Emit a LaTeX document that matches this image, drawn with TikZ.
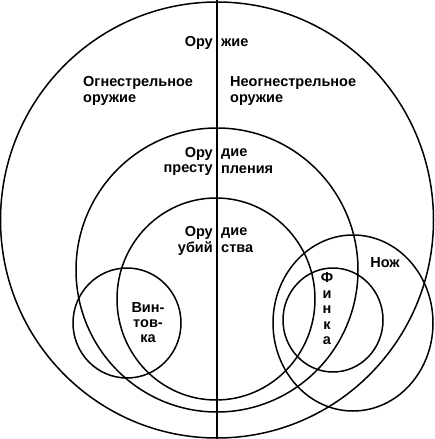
\documentclass[tikz,border=0pt]{standalone}
\usepackage{fontspec}
\setmainfont{Liberation Sans}
\begin{document}
\begin{tikzpicture}[x=1pt,y=-1pt,
  ring/.style={draw=black,line width=1.5pt},
  lbl/.style={font=\bfseries\fontsize{14.5}{15}\selectfont,inner sep=0pt,text=black},
  lblL/.style={lbl,anchor=west},
  lblR/.style={lbl,anchor=east},
  stack/.style={lbl,align=left,anchor=north west,font=\bfseries\fontsize{14.5}{16}\selectfont}]
\useasboundingbox (0,0) rectangle (434,439);
\fill[white] (0,0) rectangle (434,439);
% circles
\draw[ring] (217,220) ellipse [x radius=216.5,y radius=218];
\draw[ring] (217,270) ellipse [x radius=141,y radius=142];
\draw[ring] (216,299) ellipse [x radius=99,y radius=101];
\draw[ring] (127,323) ellipse [x radius=54,y radius=55];
\draw[ring] (353,323) ellipse [x radius=80,y radius=88];
\draw[ring] (333,320) ellipse [x radius=50,y radius=52];
% vertical divider
\coordinate (top) at (217,0);
\coordinate (bot) at (217,439);
\draw[ring] (top) -- (bot);
% labels
\node[lblR] (o1) at (213,43) {Ору};
\node[lblL] (o2) at (221,43) {жие};
\node[stack] (fire) at (83,76) {Огнестрельное\\оружие};
\node[stack] (nofire) at (230,76) {Неогнестрельное\\оружие};
\node[lblR] (p1) at (213,154) {Ору};
\node[lblL] (p2) at (221,154) {дие};
\node[lblR] (p3) at (213,170) {престу};
\node[lblL] (p4) at (221,170) {пления};
\node[lblR] (u1) at (213,233) {Ору};
\node[lblL] (u2) at (221,233) {дие};
\node[lblR] (u3) at (213,249) {убий};
\node[lblL] (u4) at (221,249) {ства};
\node[lbl,align=center,font=\bfseries\fontsize{14.5}{15}\selectfont] (vint) at (148,323) {Вин-\\тов-\\ка};
\node[lbl] (nozh) at (385,263) {Нож};
\node[lbl,align=center,font=\bfseries\fontsize{14.5}{15.5}\selectfont] (finka) at (327,309) {Ф\\и\\н\\к\\а};
\end{tikzpicture}
\end{document}
